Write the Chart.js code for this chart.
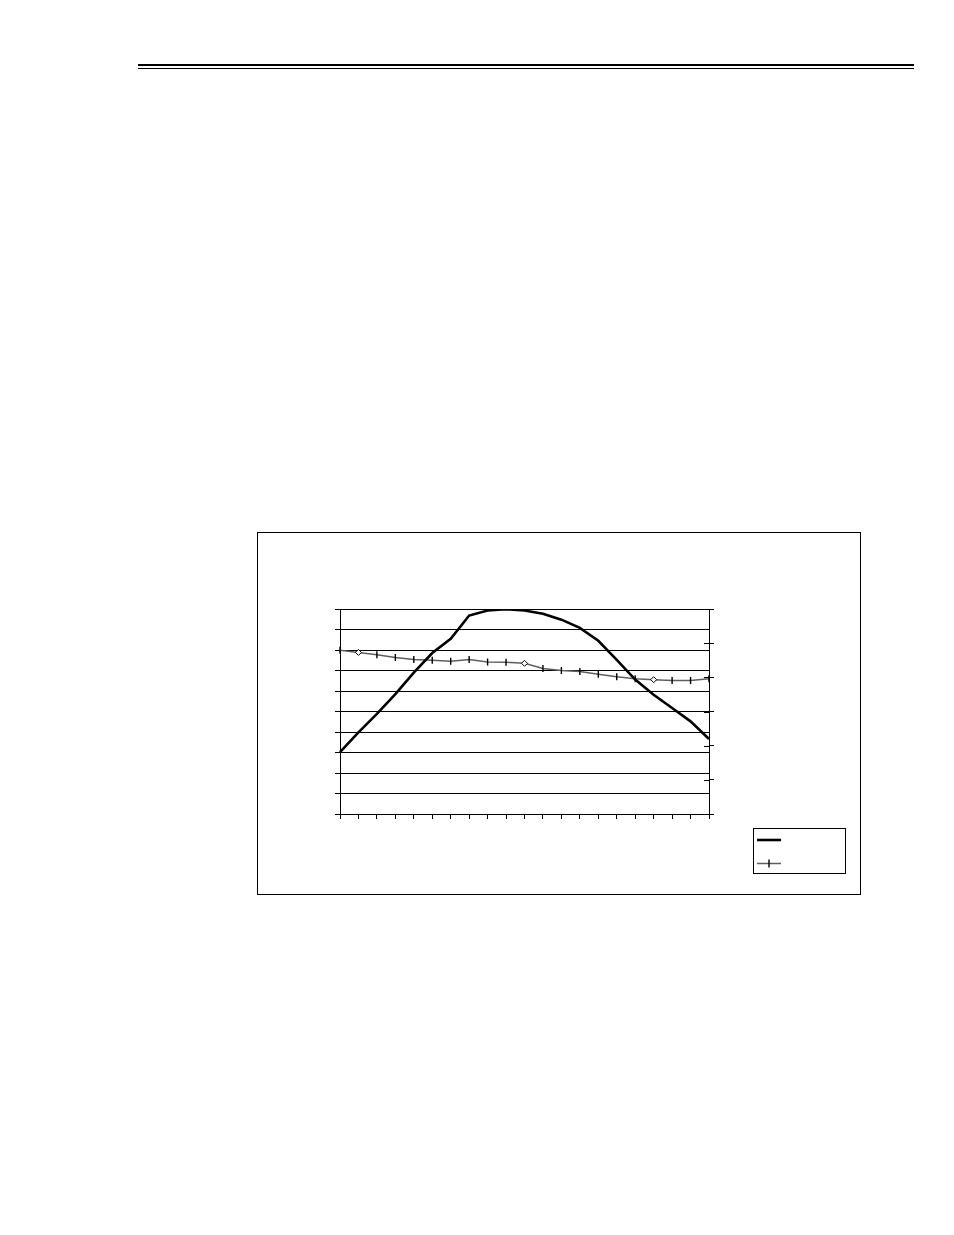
<!DOCTYPE html>
<html>
<head>
<meta charset="utf-8">
<script src="https://cdn.jsdelivr.net/npm/chart.js@4/dist/chart.umd.min.js"></script>
<style>
  html, body { margin: 0; padding: 0; background: #fff; }
  #page { position: relative; width: 954px; height: 1235px; overflow: hidden; }
  #rule1 { position: absolute; left: 138px; top: 64px; width: 776px; height: 2px; background: #000; }
  #rule2 { position: absolute; left: 138px; top: 68px; width: 776px; height: 1px; background: #000; }
  #frame { position: absolute; left: 257px; top: 532px; width: 602px; height: 361px; border: 1px solid #000; }
  #c { position: absolute; left: 0; top: 0; }
</style>
</head>
<body>
<div id="page">
  <div id="rule1"></div>
  <div id="rule2"></div>
  <div id="frame"></div>
  <canvas id="c" width="954" height="1235"></canvas>
</div>
<script>
const categories = [0, 1, 2, 3, 4, 5, 6, 7, 8, 9, 10, 11, 12, 13, 14, 15, 16, 17, 18, 19, 20];
const seriesA = [3.02, 3.98, 4.88, 5.85, 6.9, 7.85, 8.55, 9.68, 9.93, 9.99, 9.93, 9.77, 9.48, 9.08, 8.45, 7.52, 6.56, 5.82, 5.17, 4.52, 3.66];
const seriesB = [4.79, 4.73, 4.66, 4.58, 4.52, 4.50, 4.47, 4.52, 4.45, 4.44, 4.41, 4.26, 4.20, 4.17, 4.09, 4.02, 3.96, 3.93, 3.91, 3.91, 3.96];
const leftTicks = [0, 1, 2, 3, 4, 5, 6, 7, 8, 9, 10];
const rightTicks = [0, 1, 2, 3, 4, 5, 6];
const diamondIdx = [1, 10, 17];

const pointStyles = categories.map((c, i) => diamondIdx.includes(i) ? 'rectRot' : 'line');
const pointRot = categories.map((c, i) => diamondIdx.includes(i) ? 0 : 90);
const pointRad = categories.map((c, i) => diamondIdx.includes(i) ? 3 : 3.5);
const pointBg = categories.map((c, i) => diamondIdx.includes(i) ? '#fff' : '#000');
const pointBw = categories.map((c, i) => diamondIdx.includes(i) ? 1 : 1.4);

const rightInnerTicks = {
  id: 'rightInnerTicks',
  afterDatasetsDraw(chart) {
    const s = chart.scales.y2;
    const ctx = chart.ctx;
    ctx.save();
    ctx.strokeStyle = '#000';
    ctx.lineWidth = 1;
    rightTicks.forEach(v => {
      const y = Math.round(s.getPixelForValue(v)) + 0.5;
      ctx.beginPath();
      ctx.moveTo(s.left - 5, y);
      ctx.lineTo(s.left, y);
      ctx.stroke();
    });
    ctx.restore();
  }
};

const boxLegend = {
  id: 'boxLegend',
  afterDraw(chart) {
    const ctx = chart.ctx;
    const ds = chart.data.datasets;
    ctx.save();
    ctx.strokeStyle = '#000';
    ctx.lineWidth = 1;
    ctx.strokeRect(753.5, 828.5, 92, 45);
    ctx.strokeStyle = ds[0].borderColor;
    ctx.lineWidth = ds[0].borderWidth;
    ctx.beginPath(); ctx.moveTo(757, 840); ctx.lineTo(781, 840); ctx.stroke();
    ctx.strokeStyle = ds[1].borderColor;
    ctx.lineWidth = ds[1].borderWidth;
    ctx.beginPath(); ctx.moveTo(757, 863.5); ctx.lineTo(781, 863.5); ctx.stroke();
    ctx.strokeStyle = '#000';
    ctx.lineWidth = 1.4;
    ctx.beginPath(); ctx.moveTo(769, 859.5); ctx.lineTo(769, 867.5); ctx.stroke();
    ctx.restore();
  }
};

new Chart(document.getElementById('c'), {
  type: 'line',
  data: {
    labels: categories,
    datasets: [
      {
        data: seriesA,
        yAxisID: 'y',
        borderColor: '#000',
        borderWidth: 2.6,
        pointRadius: 0,
        tension: 0,
        order: 1
      },
      {
        data: seriesB,
        yAxisID: 'y2',
        borderColor: '#5f5f5f',
        borderWidth: 1.5,
        pointStyle: pointStyles,
        rotation: pointRot,
        pointRadius: pointRad,
        pointBackgroundColor: pointBg,
        pointBorderColor: '#000',
        pointBorderWidth: pointBw,
        tension: 0,
        order: 2
      }
    ]
  },
  options: {
    responsive: false,
    animation: false,
    events: [],
    layout: { padding: { left: 300, right: 200, top: 609, bottom: 400 } },
    plugins: { legend: { display: false }, tooltip: { enabled: false } },
    scales: {
      x: {
        type: 'category',
        offset: false,
        afterFit(s) { s.height = 21; },
        grid: { drawOnChartArea: false, offset: false, tickLength: 5, color: '#000', lineWidth: 1 },
        border: { display: true, color: '#000', width: 1 },
        ticks: { display: false }
      },
      y: {
        position: 'left',
        min: 0, max: 10,
        afterFit(s) { s.width = 40; },
        afterBuildTicks(s) { s.ticks = leftTicks.map(v => ({ value: v })); },
        grid: { drawOnChartArea: true, tickLength: 5, color: '#000', lineWidth: 1 },
        border: { display: true, color: '#000', width: 1 },
        ticks: { display: false }
      },
      y2: {
        position: 'right',
        min: 0, max: 6,
        afterFit(s) { s.width = 45; },
        afterBuildTicks(s) { s.ticks = rightTicks.map(v => ({ value: v })); },
        grid: { drawOnChartArea: false, tickLength: 5, color: '#000', lineWidth: 1 },
        border: { display: true, color: '#000', width: 1 },
        ticks: { display: false }
      }
    }
  },
  plugins: [rightInnerTicks, boxLegend]
});
</script>
</body>
</html>
